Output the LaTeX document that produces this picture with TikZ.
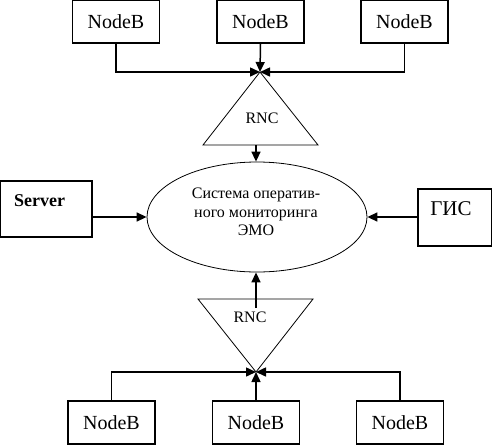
\documentclass[tikz,border=0pt]{standalone}
\usepackage{fontspec}
\setmainfont{Liberation Serif}
\usetikzlibrary{arrows.meta,shapes.geometric}

\tikzset{
  nodebox/.style={draw, line width=1.6pt, minimum width=87pt, minimum height=43pt,
    inner sep=0pt, font=\fontsize{20}{24}\selectfont},
  link/.style={line width=1.5pt, -{Triangle[length=10pt,width=9pt]}},
  rnctri/.style={line width=0.8pt, line join=miter}
}

\begin{document}
\begin{tikzpicture}[x=1pt, y=-1pt]
        \useasboundingbox (0,0) rectangle (492,445);

        % Central system
        \node[draw, ellipse, line width=0.8pt, minimum width=220pt, minimum height=110pt,
              inner sep=0pt] (emo) at (257,217) {};
        \node[align=center, inner sep=0pt, font=\fontsize{16}{18.5}\selectfont]
              (emotxt) at (256,212) {Система оператив-\\ного мониторинга\\ЭМО};

        % Side boxes
        \node[draw, line width=2.4pt, minimum width=92pt, minimum height=56pt] (server) at (46,209) {};
        \node[anchor=west, inner sep=0pt, font=\fontsize{18}{20}\selectfont\bfseries] (servertxt) at (14,201) {Server};
        \node[draw, line width=1.6pt, minimum width=74pt, minimum height=57pt] (gis) at (455,217.5) {};
        \node[inner sep=0pt, font=\fontsize{21}{24}\selectfont] (gistxt) at (451,209) {ГИС};

        % Upper RNC
        \coordinate (rncTtop) at (260,72);
        \coordinate (rncTbase) at (256,145);
        \draw[rnctri] (rncTtop) -- (318,145) -- (203,145) -- cycle;
        \node[font=\fontsize{16}{18}\selectfont] (rncT) at (262,118) {RNC};

        % Lower RNC
        \coordinate (rncBbot) at (256,372);
        \coordinate (rncBstart) at (256,308);
        \draw[rnctri] (198,299) -- (313,299) -- (rncBbot) -- cycle;
        \node[font=\fontsize{16}{18}\selectfont] (rncB) at (250,317) {RNC};

        % NodeB rows
        \node[nodebox] (nbT1) at (116,21.5) {NodeB};
        \node[nodebox] (nbT2) at (260.5,21.5) {NodeB};
        \node[nodebox] (nbT3) at (404.5,21.5) {NodeB};
        \node[nodebox] (nbB1) at (111.5,422.5) {NodeB};
        \node[nodebox] (nbB2) at (256,422.5) {NodeB};
        \node[nodebox] (nbB3) at (400,422.5) {NodeB};

        % Connectors
        \draw[link] (nbT1.south) |- (rncTtop);
        \draw[link] (nbT2.south) -- (rncTtop);
        \draw[link] (nbT3.south) |- (rncTtop);
        \draw[link] (rncTbase) -- (rncTbase |- emo.north);
        \draw[link] (nbB1.north) |- (rncBbot);
        \draw[link] (nbB2.north) -- (rncBbot);
        \draw[link] (nbB3.north) |- (rncBbot);
        \draw[link] (rncBstart) -- (rncBstart |- emo.south);
        \draw[link] (server.east |- emo.west) -- (emo.west);
        \draw[link] (gis.west |- emo.east) -- (emo.east);
\end{tikzpicture}
\end{document}
